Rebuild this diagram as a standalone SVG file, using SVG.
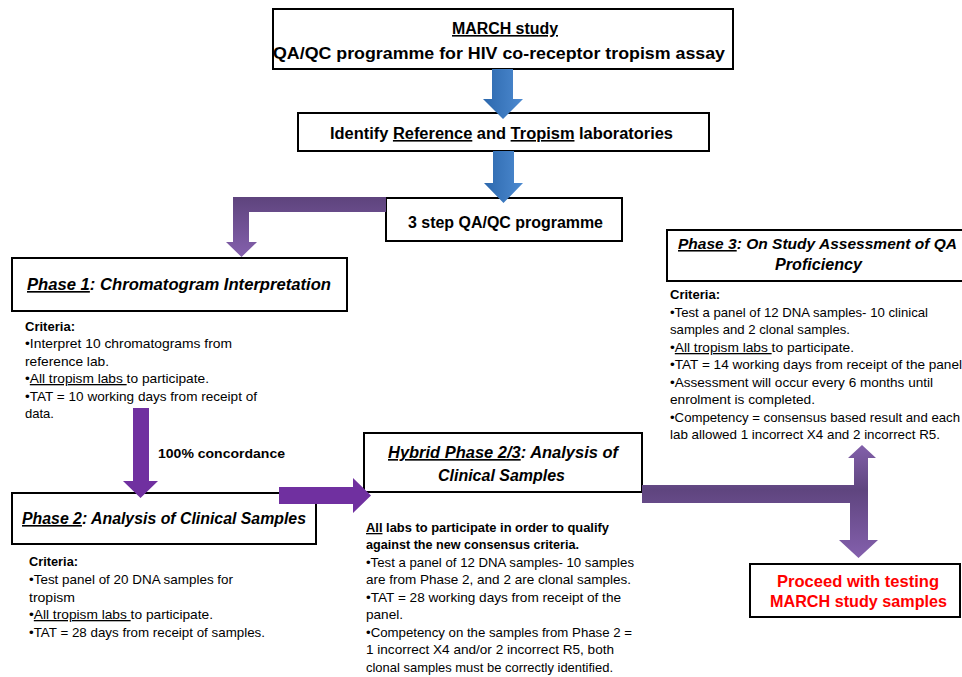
<svg xmlns="http://www.w3.org/2000/svg" width="962" height="677" viewBox="0 0 962 677">
<defs>
<linearGradient id="blue" x1="0" y1="0" x2="1" y2="0">
<stop offset="0" stop-color="#2c68ad"/><stop offset="1" stop-color="#4d8ad0"/>
</linearGradient>
<linearGradient id="purpV" x1="0" y1="0" x2="0" y2="1">
<stop offset="0" stop-color="#5e447d"/><stop offset="1" stop-color="#8460ad"/>
</linearGradient>
<linearGradient id="purpC" x1="0" y1="445" x2="0" y2="558" gradientUnits="userSpaceOnUse">
<stop offset="0" stop-color="#8260aa"/><stop offset="0.4" stop-color="#5f457f"/><stop offset="1" stop-color="#8460ad"/>
</linearGradient>
</defs>
<style>
.box{fill:#fff;stroke:#000;stroke-width:2}
.t{font-family:"Liberation Sans",Arial,sans-serif;fill:#000}
.h{font-weight:bold;font-size:16px}
.ph{font-weight:bold;font-style:italic;font-size:16.5px}
.b{font-size:13px}
.bb{font-size:13px;font-weight:bold}
.u{text-decoration:underline}
.red{fill:#ff0000;font-weight:bold;font-size:16.5px}
</style>
<rect width="962" height="677" fill="#fff"/>
<g id="top">
<rect class="box" x="273" y="9" width="460" height="60"/>
<text class="t h u" x="505" y="34" text-anchor="middle" textLength="106" lengthAdjust="spacingAndGlyphs">MARCH study</text>
<text class="t h" x="499" y="59" text-anchor="middle" textLength="452" lengthAdjust="spacingAndGlyphs">QA/QC programme for HIV co-receptor tropism  assay</text>
</g>
<g id="identify">
<rect class="box" x="298" y="113" width="411" height="38"/>
<text class="t h" x="330" y="139" textLength="343" lengthAdjust="spacingAndGlyphs">Identify <tspan class="u">Reference</tspan> and <tspan class="u">Tropism</tspan> laboratories</text>
</g>
<g id="threestep">
<rect class="box" x="386" y="198" width="236" height="43"/>
<text class="t h" x="408" y="228" textLength="195" lengthAdjust="spacingAndGlyphs">3 step QA/QC programme</text>
</g>
<g id="phase1">
<rect class="box" x="12" y="258" width="335" height="53"/>
<text class="t ph" x="27" y="290" textLength="304" lengthAdjust="spacingAndGlyphs"><tspan class="u">Phase 1</tspan>: Chromatogram Interpretation</text>
<text class="t bb" x="25" y="331" textLength="50" lengthAdjust="spacingAndGlyphs">Criteria:</text>
<text class="t b" x="25" y="348" textLength="207" lengthAdjust="spacingAndGlyphs">•Interpret 10 chromatograms from</text>
<text class="t b" x="25" y="366" textLength="84" lengthAdjust="spacingAndGlyphs">reference lab.</text>
<text class="t b" x="25" y="383" textLength="184" lengthAdjust="spacingAndGlyphs">•<tspan class="u">All tropism labs </tspan>to participate.</text>
<text class="t b" x="25" y="401" textLength="232" lengthAdjust="spacingAndGlyphs">•TAT = 10 working days from receipt of</text>
<text class="t b" x="25" y="418" textLength="29" lengthAdjust="spacingAndGlyphs">data.</text>
</g>
<g id="phase2">
<rect class="box" x="12" y="493" width="304" height="51"/>
<text class="t ph" x="22" y="524" style="font-size:16px" textLength="284" lengthAdjust="spacingAndGlyphs"><tspan class="u">Phase 2</tspan>: Analysis of Clinical Samples</text>
<text class="t bb" x="29" y="566" textLength="49" lengthAdjust="spacingAndGlyphs">Criteria:</text>
<text class="t b" x="29" y="584" textLength="204" lengthAdjust="spacingAndGlyphs">•Test panel of 20 DNA samples for</text>
<text class="t b" x="29" y="602" textLength="46" lengthAdjust="spacingAndGlyphs">tropism</text>
<text class="t b" x="29" y="619" textLength="184" lengthAdjust="spacingAndGlyphs">•<tspan class="u">All tropism labs </tspan>to participate.</text>
<text class="t b" x="29" y="637" textLength="236" lengthAdjust="spacingAndGlyphs">•TAT = 28 days from receipt of samples.</text>
</g>
<g id="hybrid">
<rect class="box" x="364" y="433" width="278" height="59"/>
<text class="t ph" x="503" y="458" text-anchor="middle" textLength="230" lengthAdjust="spacingAndGlyphs"><tspan class="u">Hybrid Phase 2/3</tspan>: Analysis of</text>
<text class="t ph" x="501.5" y="481" text-anchor="middle" textLength="127" lengthAdjust="spacingAndGlyphs">Clinical Samples</text>
<text class="t bb" x="366" y="532" textLength="243" lengthAdjust="spacingAndGlyphs"><tspan class="u">All</tspan> labs to participate in order to qualify</text>
<text class="t bb" x="366" y="549" textLength="213" lengthAdjust="spacingAndGlyphs">against the new consensus criteria.</text>
<text class="t b" x="366" y="567" textLength="268" lengthAdjust="spacingAndGlyphs">•Test a panel of 12  DNA samples- 10 samples</text>
<text class="t b" x="366" y="584" textLength="265" lengthAdjust="spacingAndGlyphs">are from Phase 2, and 2 are clonal samples.</text>
<text class="t b" x="366" y="602" textLength="255" lengthAdjust="spacingAndGlyphs">•TAT = 28 working days from receipt of the</text>
<text class="t b" x="366" y="619" textLength="37" lengthAdjust="spacingAndGlyphs">panel.</text>
<text class="t b" x="366" y="637" textLength="266" lengthAdjust="spacingAndGlyphs">•Competency on the samples from Phase 2 =</text>
<text class="t b" x="366" y="654" textLength="248" lengthAdjust="spacingAndGlyphs">1 incorrect X4 and/or 2 incorrect R5, both</text>
<text class="t b" x="366" y="672" textLength="247" lengthAdjust="spacingAndGlyphs">clonal samples must be correctly identified.</text>
</g>
<g id="phase3">
<rect class="box" x="667" y="230" width="310" height="51"/>
<text class="t ph" x="678" y="249" style="font-size:15.5px" textLength="279" lengthAdjust="spacingAndGlyphs"><tspan class="u">Phase 3</tspan>: On Study Assessment of QA</text>
<text class="t ph" x="818.5" y="270" style="font-size:16px" text-anchor="middle" textLength="87" lengthAdjust="spacingAndGlyphs">Proficiency</text>
<text class="t bb" x="670" y="299" textLength="50" lengthAdjust="spacingAndGlyphs">Criteria:</text>
<text class="t b" x="670" y="317" textLength="258" lengthAdjust="spacingAndGlyphs">•Test a panel of 12  DNA samples- 10 clinical</text>
<text class="t b" x="670" y="334" textLength="180" lengthAdjust="spacingAndGlyphs">samples and 2 clonal samples.</text>
<text class="t b" x="670" y="352" textLength="184" lengthAdjust="spacingAndGlyphs">•<tspan class="u">All tropism labs </tspan>to participate.</text>
<text class="t b" x="670" y="369" textLength="292" lengthAdjust="spacingAndGlyphs">•TAT = 14 working days from receipt of the panel</text>
<text class="t b" x="670" y="387" textLength="263" lengthAdjust="spacingAndGlyphs">•Assessment will occur every 6 months until</text>
<text class="t b" x="670" y="404" textLength="145" lengthAdjust="spacingAndGlyphs">enrolment is completed.</text>
<text class="t b" x="670" y="422" textLength="290" lengthAdjust="spacingAndGlyphs">•Competency = consensus based result and each</text>
<text class="t b" x="670" y="439" textLength="270" lengthAdjust="spacingAndGlyphs">lab allowed 1 incorrect X4 and 2 incorrect R5.</text>
</g>
<g id="proceed">
<rect class="box" x="750" y="564" width="210" height="53"/>
<text class="t red" x="858" y="587" text-anchor="middle" textLength="162" lengthAdjust="spacingAndGlyphs">Proceed with testing</text>
<text class="t red" x="858.5" y="607" text-anchor="middle" textLength="177" lengthAdjust="spacingAndGlyphs">MARCH study samples</text>
</g>
<g id="connectors">
<path fill="url(#blue)" d="M492,69 H513 V99 H523 L503,119 L483,99 H492 Z"/>
<path fill="url(#blue)" d="M493,151 H514 V183 H523 L503.5,203 L484,183 H493 Z"/>
<path fill="url(#purpV)" d="M386,197 H233 V242 H226 L241.5,257 L257,242 H249 V212 H386 Z"/>
<path fill="#7030a0" d="M133,408 H149 V481 H158 L140.5,498 L123,481 H133 Z"/>
<path fill="#7030a0" d="M279,487 H353 V478 L371,495.5 L353,513 V504 H279 Z"/>
<path fill="url(#purpC)" d="M642,485 H854 V458 H848 L862,445 L876,458 H868 V540 H878 L858.5,558 L839,540 H850 V503 H642 Z"/>
<text class="t bb" x="158" y="458" textLength="127" lengthAdjust="spacingAndGlyphs">100% concordance</text>
</g>
</svg>
